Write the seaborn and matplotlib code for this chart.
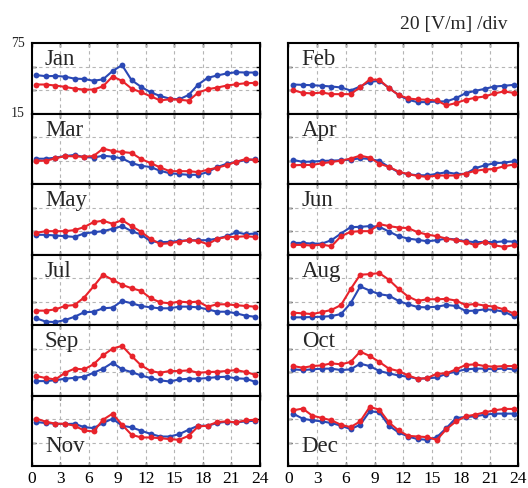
import numpy as np
import pandas as pd
import matplotlib
matplotlib.use("Agg")
import matplotlib.pyplot as plt
import seaborn as sns

# ---------------- data (hourly means, V/m) ----------------
hours = [h + 0.5 for h in range(24)]
months = ["Jan", "Feb", "Mar", "Apr", "May", "Jun",
          "Jul", "Aug", "Sep", "Oct", "Nov", "Dec"]

jan_blue = [47.9, 47.0, 47.2, 46.6, 44.9, 44.6, 43.1, 44.3, 51.4, 56.4, 43.6, 37.9,
            33.3, 30.1, 27.9, 27.3, 31.0, 39.9, 45.6, 47.6, 49.3, 50.4, 50.1, 50.1]
jan_red = [39.9, 39.9, 39.0, 37.9, 36.4, 35.6, 35.6, 38.4, 46.7, 43.0, 36.4, 33.3,
           29.9, 26.4, 27.3, 27.0, 26.1, 33.0, 35.9, 37.3, 39.0, 40.1, 41.0, 41.3]
feb_blue = [39.9, 39.6, 39.3, 38.8, 38.2, 37.4, 34.8, 38.2, 42.2, 43.0, 37.1, 30.9,
            26.9, 24.9, 24.9, 25.5, 25.5, 28.3, 32.5, 34.5, 36.2, 38.2, 38.8, 39.6]
feb_red = [35.1, 32.8, 32.3, 33.1, 31.7, 31.7, 31.7, 37.6, 44.2, 43.9, 36.8, 31.1,
           28.0, 27.2, 26.9, 26.3, 22.1, 24.1, 26.9, 28.6, 29.7, 32.3, 34.0, 32.8]
mar_blue = [36.7, 36.7, 37.6, 39.0, 39.9, 38.1, 37.6, 39.3, 38.4, 37.0, 33.0, 30.7,
            29.6, 26.4, 24.4, 23.6, 23.0, 23.0, 25.3, 29.6, 32.4, 33.9, 35.6, 36.1]
mar_red = [35.0, 35.0, 37.0, 39.0, 38.7, 38.4, 39.0, 45.3, 43.3, 42.4, 41.6, 36.4,
           33.0, 29.3, 26.1, 26.1, 26.1, 25.3, 27.3, 29.0, 31.3, 34.1, 36.4, 35.6]
apr_blue = [35.7, 34.0, 34.3, 34.8, 35.1, 35.4, 35.9, 37.1, 36.5, 34.8, 29.7, 25.2,
            23.5, 22.6, 22.6, 23.8, 25.2, 23.8, 23.8, 28.6, 31.1, 32.8, 33.4, 34.5]
apr_red = [31.1, 31.4, 31.4, 32.8, 33.9, 35.1, 36.8, 39.3, 37.6, 32.5, 29.7, 25.8,
           23.5, 22.1, 21.2, 22.4, 22.4, 22.4, 24.1, 26.4, 27.5, 28.0, 30.3, 31.7]
may_blue = [31.9, 31.9, 31.3, 30.7, 30.1, 33.0, 34.1, 35.0, 37.0, 39.3, 35.0, 32.1,
            26.4, 25.6, 25.9, 26.7, 27.3, 27.3, 27.3, 28.7, 30.7, 34.1, 32.4, 33.0]
may_red = [33.6, 35.0, 35.0, 35.0, 35.9, 38.4, 42.7, 43.9, 41.3, 44.4, 39.3, 34.4,
           28.4, 24.1, 24.7, 26.1, 27.3, 26.7, 23.9, 28.4, 30.1, 30.1, 30.7, 30.1]
jun_blue = [25.0, 25.0, 24.4, 24.4, 27.3, 33.0, 38.4, 38.7, 39.3, 38.7, 34.7, 30.7,
            28.7, 27.6, 26.4, 27.3, 28.7, 27.9, 26.4, 25.6, 25.9, 25.6, 26.4, 26.1]
jun_red = [23.3, 23.3, 22.7, 23.6, 22.1, 30.7, 34.4, 35.0, 35.0, 41.0, 39.3, 38.1,
           37.6, 34.1, 32.1, 30.7, 28.7, 27.3, 25.9, 23.0, 26.1, 23.0, 21.6, 23.0]
jul_blue = [20.7, 17.9, 17.6, 19.3, 22.1, 25.9, 26.4, 29.3, 29.9, 35.6, 33.6, 31.3,
            30.1, 29.3, 29.3, 30.7, 30.7, 30.1, 28.4, 26.4, 26.4, 25.0, 23.0, 22.1]
jul_red = [27.3, 27.3, 28.4, 31.3, 32.1, 38.4, 47.9, 57.9, 53.6, 49.3, 46.4, 44.1,
           37.9, 34.4, 33.6, 35.0, 34.4, 35.0, 30.7, 32.7, 32.7, 31.9, 31.3, 30.7]
aug_blue = [21.6, 21.6, 21.9, 22.1, 22.7, 24.4, 33.6, 47.9, 44.4, 41.3, 40.1, 35.6,
            32.7, 30.4, 30.1, 30.7, 32.1, 31.3, 27.0, 27.3, 28.4, 27.9, 26.4, 22.7]
aug_red = [25.6, 25.0, 24.4, 26.1, 27.9, 32.1, 45.6, 57.9, 58.4, 59.3, 53.6, 45.9,
           39.3, 35.6, 37.0, 37.0, 37.3, 35.9, 32.1, 33.0, 31.6, 30.7, 28.4, 25.0]
sep_blue = [27.3, 27.3, 28.1, 29.3, 30.1, 31.0, 34.4, 37.9, 43.0, 37.3, 35.0, 32.1,
            29.9, 27.9, 27.0, 28.7, 29.3, 29.3, 29.9, 30.7, 31.0, 29.6, 29.3, 26.7]
sep_red = [31.6, 29.9, 28.7, 34.4, 37.9, 37.3, 41.6, 49.3, 55.0, 57.3, 48.7, 40.7,
           35.9, 34.4, 35.9, 35.9, 36.4, 34.4, 35.0, 35.3, 35.9, 36.7, 35.0, 32.7]
oct_blue = [37.3, 36.7, 37.3, 37.9, 37.9, 36.7, 37.3, 42.1, 40.1, 35.9, 33.9, 32.1,
            31.0, 29.3, 29.6, 30.4, 33.6, 35.3, 37.3, 37.9, 37.9, 37.3, 38.1, 37.3]
oct_red = [40.1, 38.7, 40.1, 40.7, 42.4, 41.6, 43.6, 52.4, 48.7, 43.6, 37.9, 35.9,
           32.1, 29.3, 29.9, 33.6, 33.9, 37.3, 41.0, 41.6, 40.1, 39.6, 40.1, 40.1]
nov_blue = [52.4, 51.6, 51.0, 50.7, 51.0, 48.1, 47.3, 51.6, 55.3, 49.3, 47.9, 45.0,
            42.4, 40.1, 40.1, 42.1, 45.9, 49.3, 49.3, 51.6, 52.7, 52.1, 53.0, 53.6]
nov_red = [55.3, 52.7, 51.0, 51.0, 49.3, 45.3, 44.4, 54.4, 59.6, 50.1, 41.6, 39.3,
           39.3, 38.7, 37.9, 37.3, 40.7, 48.7, 49.3, 52.4, 53.0, 52.1, 53.9, 54.4]
dec_blue = [59.6, 55.3, 53.9, 53.0, 51.6, 49.3, 46.4, 50.1, 61.6, 60.7, 49.3, 43.6,
            40.1, 37.9, 37.3, 39.6, 47.3, 55.9, 56.7, 57.3, 58.7, 59.6, 59.6, 59.6]
dec_red = [62.4, 63.9, 57.9, 55.9, 53.9, 50.1, 48.1, 53.0, 65.3, 63.0, 52.1, 45.3,
           40.7, 40.1, 39.6, 37.3, 46.4, 53.0, 57.3, 58.7, 60.7, 62.4, 63.6, 63.6]

blue_series = [jan_blue, feb_blue, mar_blue, apr_blue, may_blue, jun_blue,
               jul_blue, aug_blue, sep_blue, oct_blue, nov_blue, dec_blue]
red_series = [jan_red, feb_red, mar_red, apr_red, may_red, jun_red,
              jul_red, aug_red, sep_red, oct_red, nov_red, dec_red]

xticks = [0, 3, 6, 9, 12, 15, 18, 21, 24]
xtick_labels = ["0", "3", "6", "9", "12", "15", "18", "21", "24"]
scale_text = "20 [V/m] /div"

# ---------------- styling ----------------
sns.set_style("ticks")
plt.rcParams["font.family"] = ["Liberation Serif", "DejaVu Serif"]
BLUE = "#2A48B4"
RED = "#E8232B"

W, H = 528, 488
fig = plt.figure(figsize=(W / 100, H / 100), dpi=100)

col_left = [31.7, 288.3]
col_width = [228.3, 230.0]
top0, row_h = 43.3, 70.45

for i, month in enumerate(months):
    r, c = divmod(i, 2)
    top_px = top0 + r * row_h
    ax = fig.add_axes([col_left[c] / W, 1 - (top_px + row_h) / H,
                       col_width[c] / W, row_h / H])
    df = pd.DataFrame({
        "hour": hours * 2,
        "value": blue_series[i] + red_series[i],
        "series": ["blue"] * 24 + ["red"] * 24,
    })
    sns.lineplot(data=df, x="hour", y="value", hue="series",
                 palette={"blue": BLUE, "red": RED}, marker="o",
                 markersize=4.2, markeredgewidth=0, linewidth=1.5,
                 legend=False, ax=ax, zorder=3)
    ax.set_xlim(0, 24)
    ax.set_ylim(15, 75)
    ax.set_xlabel("")
    ax.set_ylabel("")
    ax.set_xticks(xticks)
    ax.set_yticks([35, 55])
    for v in [3, 6, 9, 12, 15, 18, 21]:
        ax.axvline(v, color="#b5b5b5", lw=0.8, ls=(0, (3, 3)), zorder=1)
    for v in [35, 55]:
        ax.axhline(v, color="#b5b5b5", lw=0.8, ls=(0, (3, 3)), zorder=1)
    ax.tick_params(direction="in", top=True, right=True, length=3,
                   width=1.0, colors="black")
    if r == 5:
        ax.set_xticklabels(xtick_labels, fontsize=12.5)
        ax.tick_params(axis="x", pad=3.5)
    else:
        ax.set_xticklabels([])
    ax.set_yticklabels([])
    for s in ax.spines.values():
        s.set_linewidth(1.5)
        s.set_color("black")
    if month in ("Nov", "Dec"):
        ax.text(0.058, 0.195, month, transform=ax.transAxes, fontsize=16.5,
                va="baseline", ha="left")
    else:
        ax.text(0.058, 0.685, month, transform=ax.transAxes, fontsize=16.5,
                va="baseline", ha="left")
    if i == 0:
        ax.text(-0.03, 1.0, "75", transform=ax.transAxes, fontsize=10,
                va="center", ha="right")
        ax.text(-0.03, 0.0, "15", transform=ax.transAxes, fontsize=10,
                va="center", ha="right")

fig.text(508 / W, 1 - 29 / H, scale_text, fontsize=14, ha="right",
         va="baseline")

fig.savefig("out.png", dpi=100)
